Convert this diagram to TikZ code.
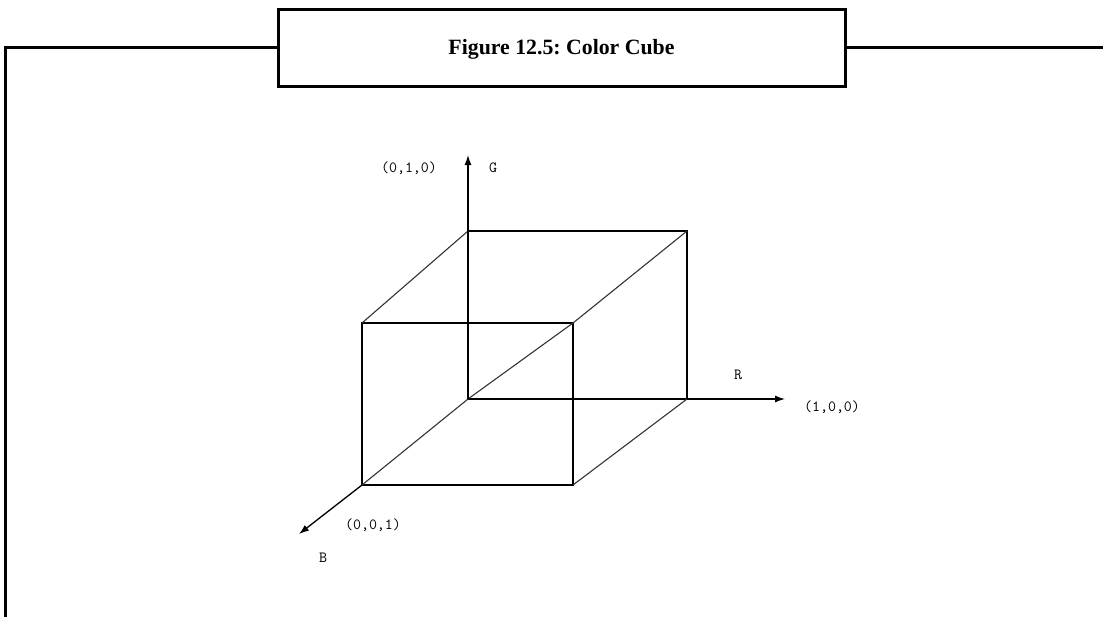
\documentclass[tikz,border=0pt]{standalone}
\usepackage{fontspec}
\setmainfont{Liberation Serif}
\usetikzlibrary{arrows.meta, positioning}
\frenchspacing
\tikzstyle{frame} = [draw, line width=3pt]
\tikzstyle{titlebox} = [rectangle, draw, line width=3pt, fill=white, minimum width=567pt, minimum height=77pt, inner sep=0pt, text height=14.5pt, text depth=0pt, font=\bfseries\fontsize{21.8}{24}\selectfont]
\tikzstyle{edge} = [draw, line width=1.3pt]
\tikzstyle{slant} = [draw, line width=1.1pt, black!80]
\tikzstyle{axis} = [draw, -{Latex[length=10pt, width=7pt]}, line width=1.3pt]
\tikzstyle{coord} = [font=\ttfamily\fontsize{15.5}{17}\selectfont, inner sep=0pt]

\begin{document}
\begin{tikzpicture}[x=1pt, y=-1pt]
    \useasboundingbox (0,0) rectangle (1103,616);
    % Place nodes
    \node [titlebox] (title) at (561.5,47.5) {Figure 12.5: Color Cube};
    \coordinate (frameleft) at (5,47.5);
    \coordinate (framebottom) at (5,620);
    \coordinate (frameright) at (1106,47.5);

    % cube corners
    \coordinate (fbl) at (362,485);
    \coordinate (fbr) at (573,485);
    \coordinate (ftr) at (573,323);
    \coordinate (ftl) at (362,323);
    \coordinate (bbl) at (468,399);
    \coordinate (bbr) at (687,399);
    \coordinate (btr) at (687,231);
    \coordinate (btl) at (468,231);

    % axis tips
    \coordinate (gtip) at (468,155);
    \coordinate (rtip) at (785,399);
    \coordinate (btip) at (299,534);

    \node [coord] (gval) at (409,168) {(0,1,0)};
    \node [coord] (glabel) at (493,168) {G};
    \node [coord] (rlabel) at (738,375) {R};
    \node [coord] (rval) at (832,407) {(1,0,0)};
    \node [coord] (bval) at (373,525) {(0,0,1)};
    \node [coord] (blabel) at (323,558) {B};

    % Draw edges
    \path [frame] (title.west) -- (frameleft) -- (framebottom);
    \path [frame] (title.east) -- (frameright);

    \path [edge] (fbl) -- (fbr) -- (ftr) -- (ftl) -- cycle;
    \path [edge] (bbl) -- (bbr) -- (btr) -- (btl) -- cycle;
    \path [slant] (ftl) -- (btl);
    \path [slant] (fbr) -- (bbr);
    \path [slant] (fbl) -- (bbl);
    \path [slant] (bbl) -- (ftr);
    \path [slant] (ftr) -- (btr);

    \path [axis] (bbl) -- (gtip);
    \path [axis] (bbr) -- (rtip);
    \path [axis] (fbl) -- (btip);
\end{tikzpicture}
\end{document}
